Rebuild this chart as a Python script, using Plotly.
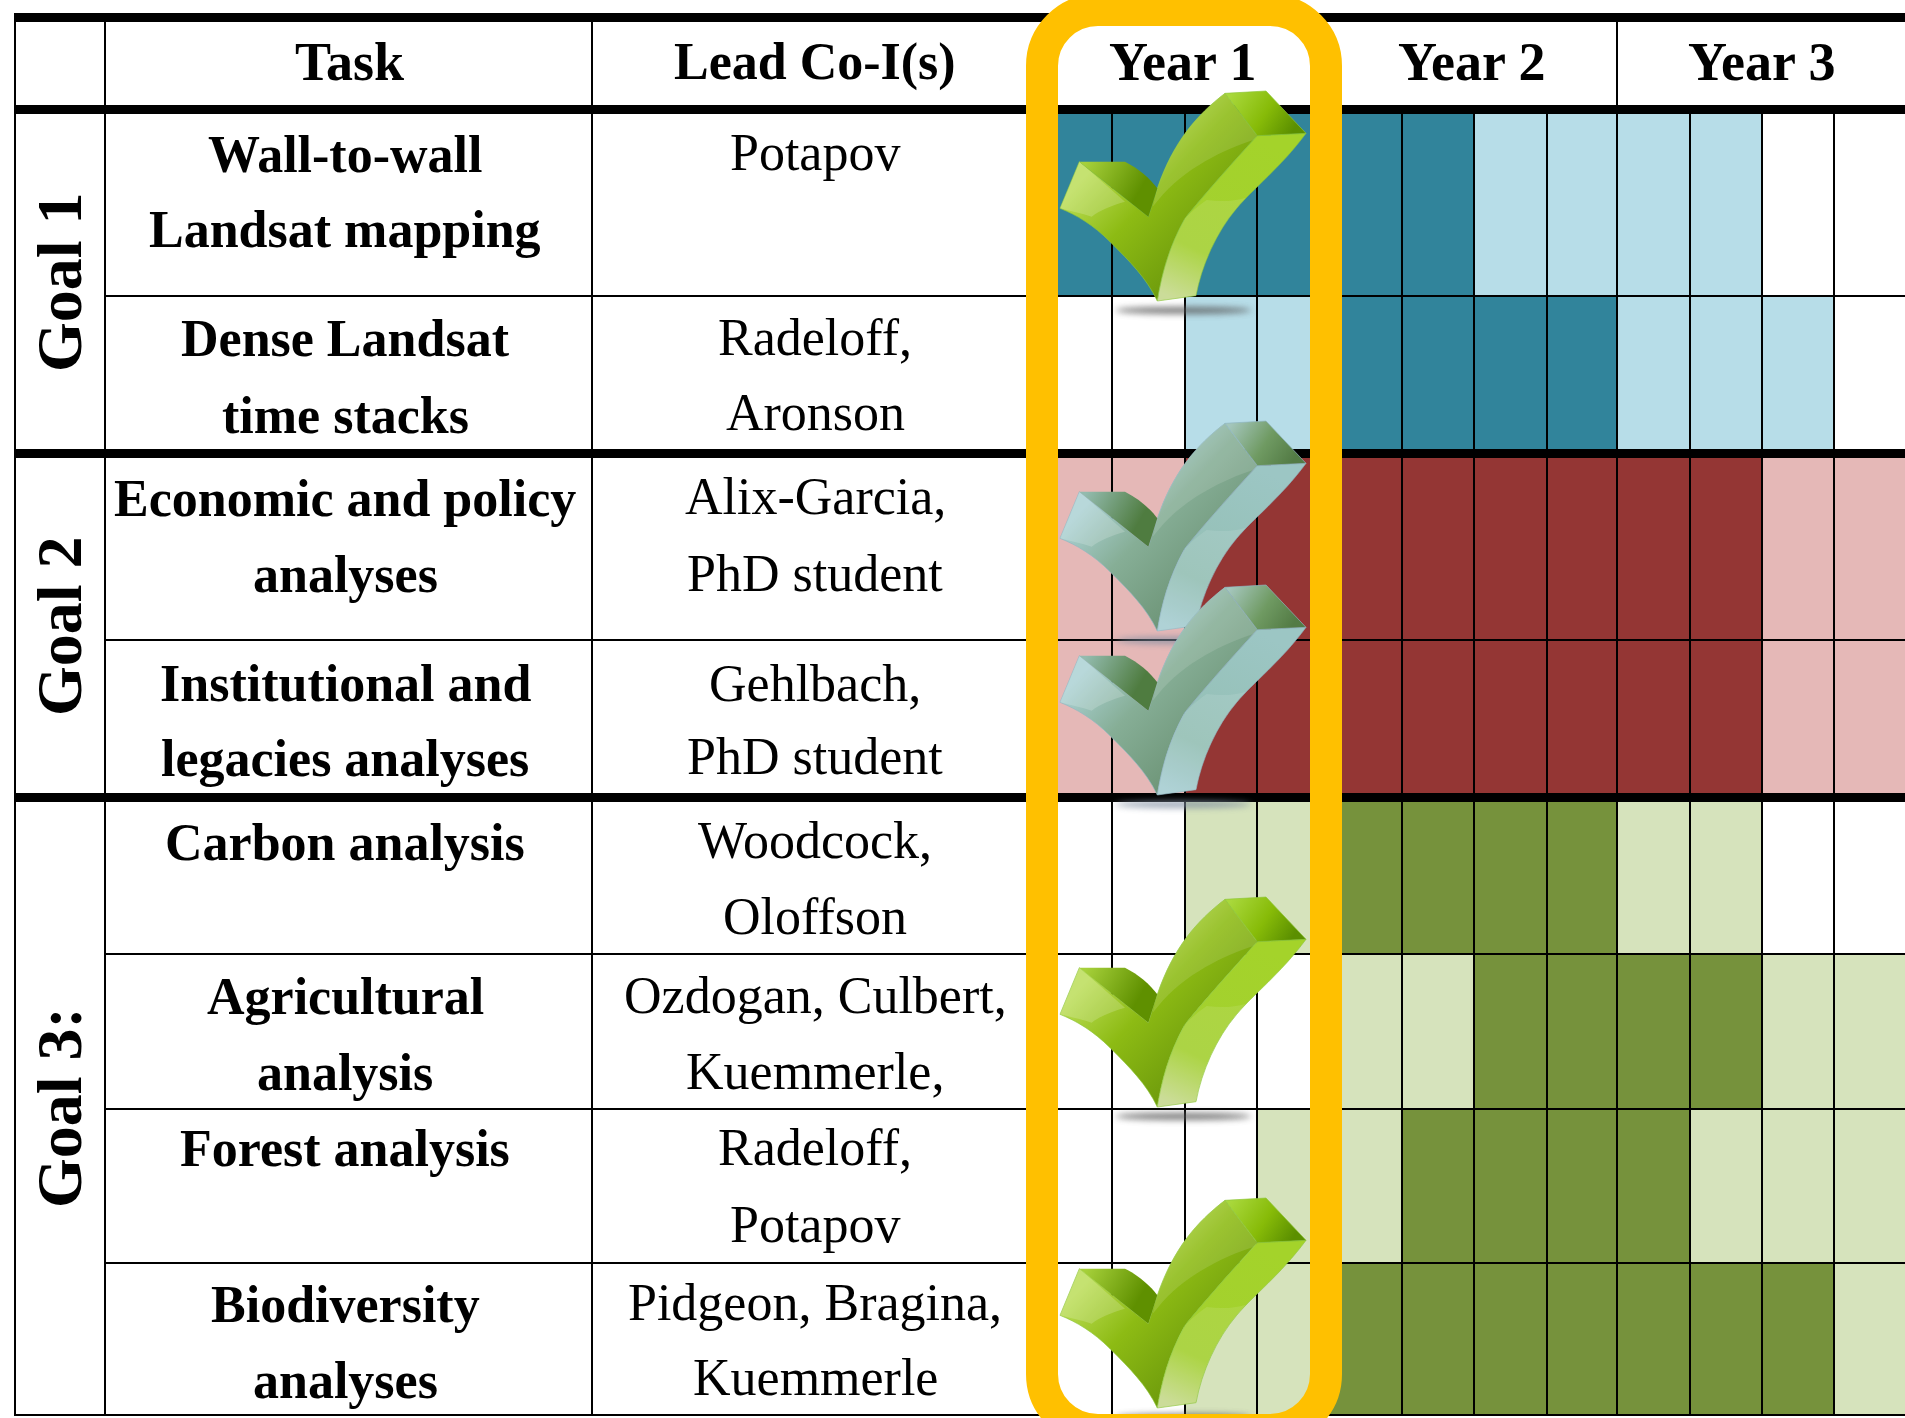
import base64
import plotly.graph_objects as go

# ---------- table content ----------
years = ["Year 1", "Year 2", "Year 3"]
goals = ["Goal 1", "Goal 2", "Goal 3:"]
tasks = [["Wall-to-wall", "Landsat mapping"], ["Dense Landsat", "time stacks"],
         ["Economic and policy", "analyses"], ["Institutional and", "legacies analyses"],
         ["Carbon analysis"], ["Agricultural", "analysis"],
         ["Forest analysis"], ["Biodiversity", "analyses"]]
leads = [["Potapov"], ["Radeloff,", "Aronson"],
         ["Alix-Garcia,", "PhD student"], ["Gehlbach,", "PhD student"],
         ["Woodcock,", "Oloffson"], ["Ozdogan, Culbert,", "Kuemmerle,"],
         ["Radeloff,", "Potapov"], ["Pidgeon, Bragina,", "Kuemmerle"]]
# activity per quarter: 0 none, 1 light, 2 intense
goal1_status = [[2, 2, 2, 2, 2, 2, 1, 1, 1, 1, 0, 0],
                [0, 0, 1, 1, 2, 2, 2, 2, 1, 1, 1, 0]]
goal2_status = [[1, 1, 2, 2, 2, 2, 2, 2, 2, 2, 1, 1],
                [1, 1, 2, 2, 2, 2, 2, 2, 2, 2, 1, 1]]
goal3_status = [[0, 0, 1, 1, 2, 2, 2, 2, 1, 1, 0, 0],
                [0, 0, 0, 0, 1, 1, 2, 2, 2, 2, 1, 1],
                [0, 0, 0, 1, 1, 2, 2, 2, 2, 1, 1, 1],
                [0, 0, 1, 1, 2, 2, 2, 2, 2, 2, 2, 1]]

# ---------- layout geometry (page pixels) ----------
W, H = 1905, 1418
col_edges = [1039, 1112, 1185, 1257, 1329, 1402, 1474, 1547, 1617, 1690, 1762, 1834, 1907]
goal1_edges = [112, 296, 451]
goal2_edges = [456, 640, 795]
goal3_edges = [800, 954, 1109, 1263, 1415]
thick_y = [17.5, 109.5, 453.5, 797.5]
thin_y = [296, 640, 954, 1109, 1263]
bottom_y = [1415]
frame_x = [15, 105, 592]
TOP, BOTTOM, HEAD = 13, 1416, 114
task_x, lead_x, goal_x = 345, 815, 59
task_head_x = 349
task_y = [[154, 229], [338, 415], [498, 574], [683, 758], [842], [996, 1072], [1148], [1304, 1380]]
lead_y = [[152], [337, 412], [496, 573], [683, 756], [840, 916], [995, 1071], [1147, 1224], [1302, 1377]]
goal_y = [282, 626, 1108]
year_x = [1182, 1471, 1761]
year_y = 62
check_tops = [85, 415, 579, 891, 1192]
check_kind = ["green", "blue", "blue", "green", "green"]

BLACK = "#000000"
SERIF = "Liberation Serif"
palettes = {
    "green": dict(cap=("#a9d83c", "#87bb08", "#5b8f00"), side=("#a6d03a", "#5f9000"),
                  face=("#b9dc52", "#8dbb14", "#6f9c0c"), right=("#a4d32a", "#a3d030", "#c6d98e"),
                  edge="#8cc63a", shadow="#555555", glow="#ffffff"),
    "blue": dict(cap=("#a4c6bc", "#6f9a62", "#537b45"), side=("#93bbae", "#4f7c40"),
                 face=("#a9d0d2", "#86ae96", "#6f9679"), right=("#9cc6c4", "#94bfb4", "#a6cdd2"),
                 edge="#8fb7c2", shadow="#7f8da0", glow="#ffffff"),
}


def check_svg(p):
    """Glossy 3D tick, drawn in an 810x720 box, as an SVG picture."""
    inner = "C560,220 470,320 405,400 C355,490 335,570 322,648"
    inner_rev = "C335,570 355,490 405,400 C470,320 560,220 622,152"
    svg = f'''<svg xmlns="http://www.w3.org/2000/svg" width="810" height="720" viewBox="0 0 810 720">
<defs>
<filter id="b" x="-30%" y="-200%" width="160%" height="500%"><feGaussianBlur stdDeviation="9"/></filter>
<linearGradient id="cap" gradientUnits="userSpaceOnUse" x1="540" y1="30" x2="720" y2="150">
<stop offset="0" stop-color="{p['cap'][0]}"/><stop offset=".55" stop-color="{p['cap'][1]}"/><stop offset="1" stop-color="{p['cap'][2]}"/></linearGradient>
<linearGradient id="side" gradientUnits="userSpaceOnUse" x1="110" y1="230" x2="320" y2="350">
<stop offset="0" stop-color="{p['side'][0]}"/><stop offset=".75" stop-color="{p['side'][1]}"/></linearGradient>
<linearGradient id="face" gradientUnits="userSpaceOnUse" x1="100" y1="280" x2="400" y2="560">
<stop offset="0" stop-color="{p['face'][0]}"/><stop offset=".45" stop-color="{p['face'][1]}"/><stop offset="1" stop-color="{p['face'][2]}"/></linearGradient>
<linearGradient id="right" gradientUnits="userSpaceOnUse" x1="600" y1="150" x2="370" y2="640">
<stop offset="0" stop-color="{p['right'][0]}"/><stop offset=".7" stop-color="{p['right'][1]}"/><stop offset="1" stop-color="{p['right'][2]}"/></linearGradient>
</defs>
<ellipse cx="400" cy="676" rx="205" ry="11" fill="{p['shadow']}" opacity=".75" filter="url(#b)"/>
<path d="M88,230 L295,395 L322,310 C370,170 440,90 525,25 L622,152 {inner} C290,580 240,530 180,470 C130,420 80,390 30,370 Z" fill="url(#face)" stroke="{p['edge']}" stroke-width="2"/>
<path d="M88,230 L225,350 C190,360 150,375 125,395 C95,385 60,378 30,370 Z" fill="{p['glow']}" opacity=".18"/>
<path d="M525,25 L622,152 L610,165 C530,190 400,250 325,345 L308,365 L322,310 C370,170 440,90 525,25 Z" fill="{p['glow']}" opacity=".12"/>
<path d="M88,230 L225,230 C265,250 300,280 322,310 L295,395 Z" fill="url(#side)"/>
<path d="M622,152 L768,145 C690,250 610,310 560,370 C500,440 455,540 438,632 L322,648 {inner_rev} Z" fill="url(#right)" stroke="{p['edge']}" stroke-width="2"/>
<path d="M470,345 C510,350 550,350 588,338 C500,430 455,540 438,632 L322,648 C335,570 355,490 405,400 C425,380 448,360 470,345 Z" fill="{p['glow']}" opacity=".1"/>
<path d="M525,25 L648,18 L768,145 L622,152 Z" fill="url(#cap)" stroke="{p['edge']}" stroke-width="2"/>
</svg>'''
    return "data:image/svg+xml;base64," + base64.b64encode(svg.encode()).decode()


def scale(light, dark):
    return [[0, "#ffffff"], [.25, "#ffffff"], [.25, light], [.75, light], [.75, dark], [1, dark]]


def seg_h(ys, x0, x1=W):
    xs, yy = [], []
    for y in ys:
        xs += [x0, x1, None]
        yy += [y, y, None]
    return xs, yy


def seg_v(xs_in, y0, y1):
    xs, yy = [], []
    for x in xs_in:
        xs += [x, x, None]
        yy += [y0, y1, None]
    return xs, yy


fig = go.Figure()
for z, edges, light, dark in [(goal1_status, goal1_edges, "#B7DDE8", "#31849B"),
                              (goal2_status, goal2_edges, "#E5B8B7", "#943634"),
                              (goal3_status, goal3_edges, "#D6E3BC", "#76923C")]:
    fig.add_trace(go.Heatmap(z=z, x=col_edges, y=edges, zmin=0, zmax=2, showscale=False,
                             colorscale=scale(light, dark), hoverinfo="skip"))

# table rules
vx, vy = seg_v(col_edges[1:-1], HEAD, 1415)
fx, fy = seg_v(frame_x, TOP, BOTTOM)
hx, hy = seg_v([col_edges[8]], TOP, HEAD)
tx, ty = seg_h(thin_y, frame_x[1])
bx, by = seg_h(bottom_y, frame_x[0])
fig.add_trace(go.Scatter(x=vx + fx + hx + tx + bx, y=vy + fy + hy + ty + by, mode="lines",
                         line=dict(color=BLACK, width=2), hoverinfo="skip", showlegend=False))
kx, ky = seg_h(thick_y, frame_x[0])
fig.add_trace(go.Scatter(x=kx, y=ky, mode="lines", line=dict(color=BLACK, width=9),
                         hoverinfo="skip", showlegend=False))

ann = []


def put(text, x, y, size=52, bold=False, angle=0):
    ann.append(dict(text=f"<b>{text}</b>" if bold else text, x=x, y=y, xref="x", yref="y",
                    showarrow=False, xanchor="center", yanchor="middle", textangle=angle,
                    font=dict(family=SERIF, size=size, color=BLACK)))


put("Task", task_head_x, year_y, size=54, bold=True)
put("Lead Co-I(s)", lead_x, year_y, bold=True)
for label, x in zip(years, year_x):
    put(label, x, year_y, size=54, bold=True)
for label, y in zip(goals, goal_y):
    put(label, goal_x, y, size=64, bold=True, angle=-90)
for lines, ys in zip(tasks, task_y):
    for line, y in zip(lines, ys):
        put(line, task_x, y, bold=True)
for lines, ys in zip(leads, lead_y):
    for line, y in zip(lines, ys):
        put(line, lead_x, y)

images = [dict(source=check_svg(palettes[k]), xref="x", yref="y", x=1050, y=t, sizex=270, sizey=240,
               xanchor="left", yanchor="top", sizing="stretch", layer="above")
          for t, k in zip(check_tops, check_kind)]

orange = ("M1042,1374 L1042,66 C1042,35 1067,10 1098,10 L1270,10 C1301,10 1326,35 1326,66 "
          "L1326,1374 C1326,1405 1301,1430 1270,1430 L1098,1430 C1067,1430 1042,1405 1042,1374 Z")

fig.update_layout(
    width=W, height=H, margin=dict(l=0, r=0, t=0, b=0), paper_bgcolor="#ffffff", plot_bgcolor="#ffffff",
    xaxis=dict(range=[0, W], visible=False, fixedrange=True),
    yaxis=dict(range=[H, 0], visible=False, fixedrange=True),
    annotations=ann, images=images, showlegend=False,
    shapes=[dict(type="path", path=orange, xref="x", yref="y", layer="above",
                 line=dict(color="#FFC000", width=32), fillcolor="rgba(0,0,0,0)")],
)
fig.write_html("out.html", config=dict(displayModeBar=False),
               post_script="document.body.style.margin='0';document.body.style.overflow='hidden';")
